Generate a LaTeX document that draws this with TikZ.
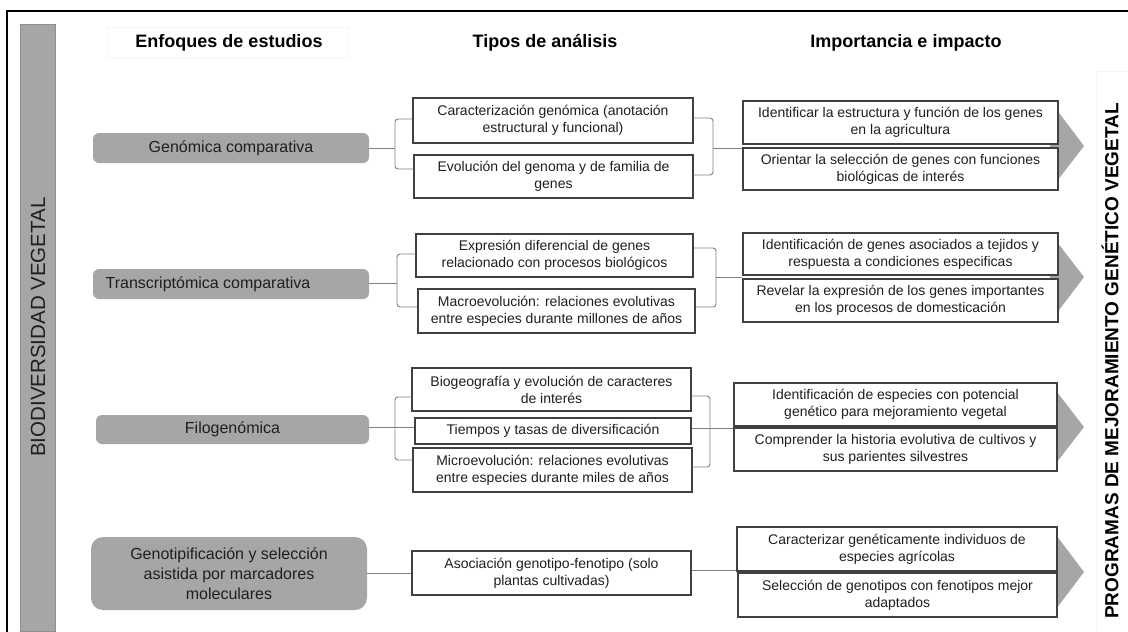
\documentclass[tikz,border=0pt]{standalone}
\usepackage{fontspec}
\setmainfont{Liberation Sans}
\definecolor{gfill}{HTML}{A6A6A6}
\definecolor{gline}{HTML}{8F8F8F}
\definecolor{boxline}{HTML}{404040}
\definecolor{connc}{HTML}{808080}
\definecolor{txt}{HTML}{1F1F1F}
\definecolor{faint}{HTML}{F6F6F6}
\begin{document}
\begin{tikzpicture}[x=1pt,y=-1pt,
  abox/.style={draw=boxline, line width=1.3pt, fill=white, inner sep=0pt, align=center, font=\fontsize{14}{17}\selectfont, text=txt},
  gbox/.style={fill=gfill, rounded corners=6pt, inner sep=0pt, align=center, font=\fontsize{16}{20}\selectfont, text=txt},
  conn/.style={draw=connc, line width=0.9pt, rounded corners=3pt},
  tri/.style={fill=gfill, draw=none},
  hdr/.style={font=\bfseries\fontsize{18}{22}\selectfont, text=black}]
\useasboundingbox (0,0) rectangle (1128,632);
\fill[white] (0,0) rectangle (1128,632);
% frame
\draw[black, line width=1.5pt] (7,632) -- (7,11) -- (1128,11);
% faint header boxes
\draw[faint, line width=0.5pt] (107,27) rectangle (348,58);
\draw[faint, line width=0.5pt] (1096,71) rectangle (1130,634);
% left bar
\node[fill=gfill, draw=gline, line width=0.8pt, minimum width=35pt, minimum height=607pt, inner sep=0pt] (bar) at (37.5,327.5) {};
\node[rotate=90, font=\fontsize{20.5}{24}\selectfont, text=txt] (bio) at (38,327) {BIODIVERSIDAD VEGETAL};
% right vertical title
\node[rotate=90, font=\bfseries\fontsize{19}{23}\selectfont, text=black] (prog) at (1110,361) {PROGRAMAS DE MEJORAMIENTO GENÉTICO VEGETAL};
% headers
\node[hdr] (h1) at (229,43) {Enfoques de estudios};
\node[hdr] (h2) at (545,43) {Tipos de análisis};
\node[hdr] (h3) at (906,43) {Importancia e impacto};
% triangles
\fill[tri] (1050,101) -- (1084,146) -- (1050,190) -- cycle;
\fill[tri] (1050,233) -- (1084,277) -- (1050,322) -- cycle;
\fill[tri] (1050,383) -- (1084,427) -- (1050,471) -- cycle;
\fill[tri] (1050,527) -- (1084,572) -- (1050,617) -- cycle;
% left gray boxes
\node[gbox, minimum width=276pt, minimum height=30pt] (G1) at (231,148) {Genómica comparativa};
\node[gbox, minimum width=276pt, minimum height=30pt] (G2) at (231,284) {};
\node[font=\fontsize{16}{20}\selectfont, text=txt, inner sep=0pt] (G2t) at (208,284) {Transcriptómica comparativa};
\node[gbox, minimum width=273pt, minimum height=29pt] (G3) at (232.5,429.5) {Filogenómica};
\node[gbox, rounded corners=12pt, minimum width=276pt, minimum height=73pt] (G4) at (229,573.5) {Genotipificación y selección\\asistida por marcadores\\moleculares};
% analysis boxes
\node[abox, minimum width=280pt, minimum height=45pt] (A1) at (553,120.5) {Caracterización genómica (anotación\\estructural y funcional)};
\node[abox, minimum width=279pt, minimum height=43pt] (A2) at (553.5,176.5) {Evolución del genoma y de familia de\\genes};
\node[abox, minimum width=277pt, minimum height=43pt] (B1) at (554.5,255.5) {Expresión diferencial de genes\\relacionado con procesos biológicos};
\node[abox, minimum width=277pt, minimum height=44pt] (B2) at (556.5,311) {Macroevolución: relaciones evolutivas\\entre especies durante millones de años};
\node[abox, minimum width=279pt, minimum height=43pt] (C1) at (551.5,389.5) {Biogeografía y evolución de caracteres\\de interés};
\node[abox, minimum width=276pt, minimum height=26pt] (C2) at (553,431) {Tiempos y tasas de diversificación};
\node[abox, minimum width=279pt, minimum height=44pt] (C3) at (552.5,470) {Microevolución: relaciones evolutivas\\entre especies durante miles de años};
\node[abox, minimum width=279pt, minimum height=44pt] (D1) at (551.5,573) {Asociación genotipo-fenotipo (solo\\plantas cultivadas)};
% impact boxes
\node[abox, minimum width=315pt, minimum height=43pt] (R1) at (900.5,122.5) {Identificar la estructura y función de los genes\\en la agricultura};
\node[abox, minimum width=315pt, minimum height=42pt] (R2) at (900.5,169) {Orientar la selección de genes con funciones\\biológicas de interés};
\node[abox, minimum width=315pt, minimum height=42pt] (S1) at (900.5,254) {Identificación de genes asociados a tejidos y\\respuesta a condiciones especificas};
\node[abox, minimum width=315pt, minimum height=43pt] (S2) at (900.5,300.5) {Revelar la expresión de los genes importantes\\en los procesos de domesticación};
\node[abox, minimum width=323pt, minimum height=43pt] (T1) at (895.5,404.5) {Identificación de especies con potencial\\genético para mejoramiento vegetal};
\node[abox, minimum width=323pt, minimum height=43pt] (T2) at (895.5,449.5) {Comprender la historia evolutiva de cultivos y\\sus parientes silvestres};
\node[abox, minimum width=320pt, minimum height=44pt] (U1) at (897,549) {Caracterizar genéticamente individuos de\\especies agrícolas};
\node[abox, minimum width=319pt, minimum height=44pt] (U2) at (897.5,595) {Selección de genotipos con fenotipos mejor\\adaptados};
% connectors row 1
\coordinate (j1) at (395,148);
\draw[conn] (G1.east) -- (j1);
\draw[conn] (A1.west |- 0,119) -- (395,119) -- (395,169) -- (A2.west |- 0,169);
\draw[conn] (A1.east |- 0,118) -- (713,118) -- (713,175) -- (A2.east |- 0,175);
\draw[conn] (713,148) -- (R1.west |- 0,148);
% row 2
\coordinate (j2) at (397,283);
\draw[conn] (G2.east |- j2) -- (j2);
\draw[conn] (B1.west |- 0,254) -- (397,254) -- (397,307) -- (B2.west |- 0,307);
\draw[conn] (B1.east |- 0,248) -- (716,248) -- (716,307) -- (B2.east |- 0,307);
\draw[conn] (716,277) -- (S1.west |- 0,277);
% row 3
\draw[conn] (G3.east |- 0,427) -- (C2.west |- 0,427);
\draw[conn] (C1.west |- 0,397) -- (395,397) -- (395,460) -- (C3.west |- 0,460);
\draw[conn] (C1.east |- 0,396) -- (710,396) -- (710,467) -- (C3.east |- 0,467);
\draw[conn] (C2.east |- 0,428) -- (T1.west |- 0,428);
% row 4
\draw[conn] (G4.east |- 0,573) -- (D1.west |- 0,573);
\draw[conn] (D1.east |- 0,570) -- (U1.west |- 0,570);
\end{tikzpicture}
\end{document}
